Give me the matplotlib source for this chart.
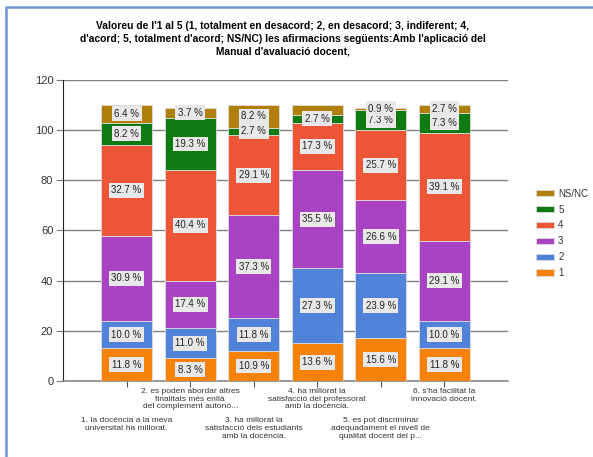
import numpy as np
import matplotlib.pyplot as plt
from matplotlib.patches import Rectangle

# Answer counts per statement (bars stack counts, labels show percentages)
statements = [
    "1. la docència a la meva\nuniversitat ha millorat.",
    "2. es poden abordar altres\nfinalitats més enllà\ndel complement autonò...",
    "3. ha millorat la\nsatisfacció dels estudiants\namb la docència.",
    "4. ha millorat la\nsatisfacció del professorat\namb la docència.",
    "5. es pot discriminar\nadequadament el nivell de\nqualitat docent del p...",
    "6. s'ha facilitat la\ninnovació docent.",
]
levels = ["1", "2", "3", "4", "5", "NS/NC"]
resp_1 = [13, 9, 12, 15, 17, 13]
resp_2 = [11, 12, 13, 30, 26, 11]
resp_3 = [34, 19, 41, 39, 29, 32]
resp_4 = [36, 44, 32, 19, 28, 43]
resp_5 = [9, 21, 3, 3, 8, 8]
resp_nsnc = [7, 4, 9, 4, 1, 3]
# labels the original chart leaves out (bar index, level index)
hidden_labels = [(3, 5)]

colors = ["#f7820a", "#4f82d8", "#a943c4", "#ec5536", "#0f7a12", "#b07f08"]

counts = np.array([resp_1, resp_2, resp_3, resp_4, resp_5, resp_nsnc], dtype=float)
totals = counts.sum(axis=0)

fig = plt.figure(figsize=(5.93, 4.57), dpi=100)
plt.rcParams['font.family'] = ['Liberation Sans', 'DejaVu Sans']

# outer frame
fig.patches.append(Rectangle((6 / 593, -0.05), 1.2, 1 - 7 / 457 + 0.05,
                             transform=fig.transFigure, fill=False,
                             edgecolor="#6d95d0", lw=1.8))

ax = fig.add_axes([63 / 593, 1 - 381 / 457, 445 / 593, 301 / 457])
x = np.arange(1, 7)
bottom = np.zeros(6)
handles = []
for i, lev in enumerate(levels):
    b = ax.bar(x, counts[i], 0.8, bottom=bottom, color=colors[i],
               edgecolor="#dcdcdc", linewidth=0.6, zorder=3, label=lev)
    handles.append(b)
    for j in range(6):
        if (j, i) in hidden_labels:
            continue
        pct = counts[i, j] / totals[j] * 100
        ax.text(x[j], bottom[j] + counts[i, j] / 2, "%.1f %%" % pct,
                ha="center", va="center", fontsize=7, color="#222222", zorder=5,
                bbox=dict(boxstyle="square,pad=0.25", fc="#e8e8e8", ec="none"))
    bottom += counts[i]

ax.set_xlim(0, 7)
ax.set_ylim(0, 120)
ax.set_yticks(range(0, 121, 20))
ax.tick_params(axis="y", labelsize=8, length=5, color="#777777", labelcolor="#333333", pad=2)
for yv in range(20, 121, 20):
    ax.axhline(yv, color="#808080", lw=1, zorder=1)
ax.set_xticks(x)
ax.set_xticklabels([])
ax.tick_params(axis="x", length=4, color="#555555")
for j, s in enumerate(statements):
    yoff = -5 if j % 2 == 1 else -26
    ax.annotate(s, (x[j], 0), xytext=(0, yoff), textcoords="offset points",
                ha="center", va="top", fontsize=6, color="#333333",
                linespacing=1.15, annotation_clip=False)
for sp in ["top", "right"]:
    ax.spines[sp].set_visible(False)
ax.spines["left"].set_color("#222222")
ax.spines["bottom"].set_color("#888888")
ax.spines["bottom"].set_linewidth(1.2)

fig.legend(handles[::-1], levels[::-1], loc="upper left",
           bbox_to_anchor=(527 / 593, 1 - 180 / 457), frameon=False,
           fontsize=7, handlelength=1.9, handleheight=0.6,
           labelspacing=0.6, handletextpad=0.4, labelcolor="#333333")

fig.text(283 / 593, 1 - 21 / 457,
         "Valoreu de l'1 al 5 (1, totalment en desacord; 2, en desacord; 3, indiferent; 4,\n"
         "d'acord; 5, totalment d'acord; NS/NC) les afirmacions següents:Amb l'aplicació del\n"
         "Manual d'avaluació docent,",
         ha="center", va="top", fontsize=7.4, fontweight="bold", linespacing=1.35)

fig.savefig("out.png", dpi=100)
